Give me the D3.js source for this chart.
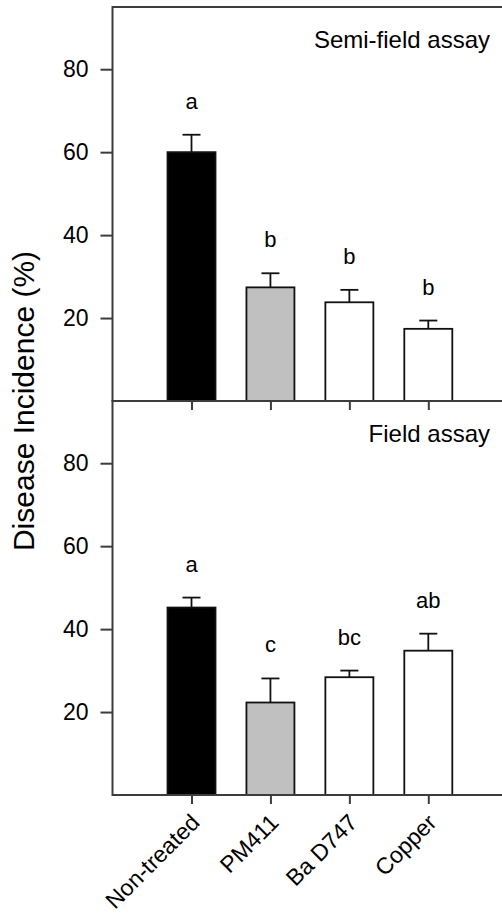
<!DOCTYPE html>
<html>
<head>
<meta charset="utf-8">
<script src="https://cdn.jsdelivr.net/npm/d3@7"></script>
<style>
  html, body { margin: 0; padding: 0; background: #fff; }
  svg { display: block; }
  text { font-family: "Liberation Sans", Arial, sans-serif; fill: #000; }
</style>
</head>
<body>
<svg id="chart" width="502" height="914"></svg>
<script>
// ---- data ----
const categories = ["Non-treated", "PM411", "Ba D747", "Copper"];
const semiFieldMean = [60.0, 27.4, 23.8, 17.4];
const semiFieldErr = [4.2, 3.4, 3.0, 2.0];
const semiFieldLetters = ["a", "b", "b", "b"];
const fieldMean = [45.2, 22.3, 28.4, 34.8];
const fieldErr = [2.4, 5.8, 1.6, 4.1];
const fieldLetters = ["a", "c", "bc", "ab"];
const barFills = ["#000000", "#c0c0c0", "#ffffff", "#ffffff"];
const yTicks = [20, 40, 60, 80];
const panelTitles = ["Semi-field assay", "Field assay"];
const yLabel = "Disease Incidence (%)";

// ---- layout ----
const svg = d3.select("#chart");
const axisX = 112.5, rightX = 520;
const panels = [
  { top: 7, bottom: 401, mean: semiFieldMean, err: semiFieldErr, letters: semiFieldLetters, title: panelTitles[0], labels: false },
  { top: 401, bottom: 795, mean: fieldMean, err: fieldErr, letters: fieldLetters, title: panelTitles[1], labels: true }
];
const x = d3.scalePoint().domain(categories).range([191.5, 428.3]);
const barW = 48, capW = 18;
const frameColor = "#3c3c3c";

panels.forEach(p => {
  const y = d3.scaleLinear().domain([0, 95]).range([p.bottom, p.top]);
  const g = svg.append("g");
  const rows = categories.map((c, i) => ({ c, m: p.mean[i], e: p.err[i], l: p.letters[i], f: barFills[i] }));

  // bars
  g.selectAll("rect.bar").data(rows).join("rect")
    .attr("class", "bar")
    .attr("x", d => x(d.c) - barW / 2)
    .attr("width", barW)
    .attr("y", d => y(d.m))
    .attr("height", d => y(0) - y(d.m))
    .attr("fill", d => d.f)
    .attr("stroke", "#111")
    .attr("stroke-width", 1.8);

  // error bars (upper only)
  g.selectAll("line.err").data(rows).join("line")
    .attr("class", "err")
    .attr("x1", d => x(d.c)).attr("x2", d => x(d.c))
    .attr("y1", d => y(d.m)).attr("y2", d => y(d.m + d.e))
    .attr("stroke", "#111").attr("stroke-width", 1.8);
  g.selectAll("line.cap").data(rows).join("line")
    .attr("class", "cap")
    .attr("x1", d => x(d.c) - capW / 2).attr("x2", d => x(d.c) + capW / 2)
    .attr("y1", d => y(d.m + d.e)).attr("y2", d => y(d.m + d.e))
    .attr("stroke", "#111").attr("stroke-width", 1.8);

  // significance letters
  g.selectAll("text.letter").data(rows).join("text")
    .attr("class", "letter")
    .attr("x", d => x(d.c))
    .attr("y", d => y(d.m + d.e) - 26)
    .attr("text-anchor", "middle")
    .attr("font-size", 22)
    .text(d => d.l);

  // panel title
  g.append("text")
    .attr("x", 490).attr("y", p.top + 41)
    .attr("text-anchor", "end")
    .attr("font-size", 24)
    .text(p.title);

  // left axis
  const ya = g.append("g")
    .attr("transform", `translate(${axisX},0)`)
    .call(d3.axisLeft(y).tickValues(yTicks).tickSize(12).tickPadding(12).tickFormat(d3.format("d")));
  ya.select(".domain").remove();
  ya.selectAll(".tick line").attr("stroke", frameColor).attr("stroke-width", 2);
  ya.selectAll(".tick text").attr("font-size", 23).attr("font-family", "Liberation Sans, Arial, sans-serif").attr("fill", "#000");

  // bottom axis ticks
  const xa = g.append("g")
    .attr("transform", `translate(0,${p.bottom})`)
    .call(d3.axisBottom(x).tickSize(9).tickPadding(0));
  xa.select(".domain").remove();
  xa.selectAll(".tick line").attr("stroke", frameColor).attr("stroke-width", 2);
  if (p.labels) {
    xa.selectAll(".tick text")
      .attr("x", 0).attr("y", 0).attr("dy", 0)
      .attr("transform", "translate(9,29) rotate(-45)")
      .attr("text-anchor", "end")
      .attr("font-size", 23)
      .attr("font-family", "Liberation Sans, Arial, sans-serif")
      .attr("fill", "#000");
  } else {
    xa.selectAll(".tick text").remove();
  }

  // frame lines: top and bottom of panel
  g.append("line").attr("x1", axisX).attr("x2", rightX).attr("y1", p.top).attr("y2", p.top)
    .attr("stroke", frameColor).attr("stroke-width", 2);
  g.append("line").attr("x1", axisX).attr("x2", rightX).attr("y1", p.bottom).attr("y2", p.bottom)
    .attr("stroke", frameColor).attr("stroke-width", 2);
  // left axis line
  g.append("line").attr("x1", axisX).attr("x2", axisX).attr("y1", p.top - 1).attr("y2", p.bottom + 1)
    .attr("stroke", frameColor).attr("stroke-width", 2);
});

// y axis title
svg.append("text")
  .attr("transform", "translate(34,401) rotate(-90)")
  .attr("text-anchor", "middle")
  .attr("font-size", 30)
  .text(yLabel);
</script>
</body>
</html>
